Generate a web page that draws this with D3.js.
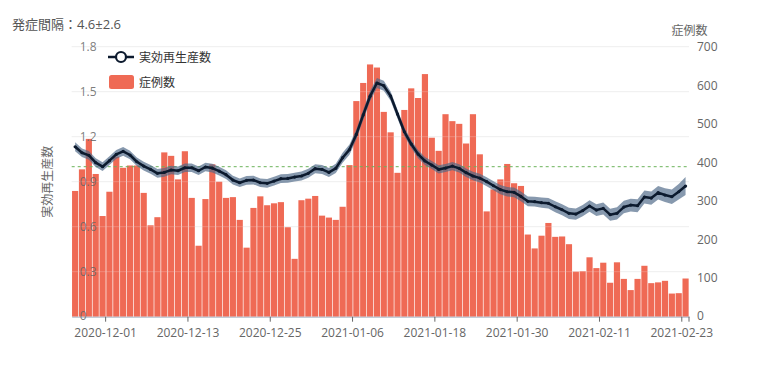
<!DOCTYPE html>
<html>
<head>
<meta charset="utf-8">
<script src="https://cdn.jsdelivr.net/npm/d3@7"></script>
<style>
  body { margin: 0; background: #fff; }
  text { font-family: "Open Sans", "Noto Sans CJK JP", sans-serif; }
  .jp { font-family: "Noto Sans CJK JP", "Open Sans", sans-serif; }
</style>
</head>
<body>
<svg id="chart" width="764" height="373"></svg>
<script>
// first day of the series (JST dates)
var startDay = "2020-11-27";

// daily case counts (症例数)
var cases = [
  326, 382, 461, 370, 261, 324, 415, 386, 392, 392,
  321, 237, 258, 426, 417, 356, 429, 308, 184, 305,
  395, 350, 308, 310, 251, 179, 282, 312, 289, 294,
  297, 232, 150, 302, 306, 313, 262, 257, 251, 285,
  393, 559, 606, 654, 646, 531, 478, 373, 536, 592,
  567, 629, 464, 430, 525, 507, 500, 449, 525, 421,
  273, 330, 356, 396, 346, 339, 213, 177, 210, 243,
  207, 208, 188, 117, 118, 154, 126, 140, 88, 141,
  98, 69, 98, 132, 87, 89, 93, 60, 61, 99
];

// effective reproduction number (実効再生産数)
var rt = [
  1.133, 1.093, 1.076, 1.027, 1.000, 1.040, 1.082, 1.102, 1.078, 1.033,
  1.004, 0.982, 0.956, 0.962, 0.978, 0.973, 0.993, 0.993, 0.973, 0.998,
  0.991, 0.971, 0.947, 0.911, 0.893, 0.909, 0.911, 0.893, 0.889, 0.904,
  0.920, 0.922, 0.931, 0.938, 0.956, 0.987, 0.982, 0.962, 0.989, 1.060,
  1.114, 1.215, 1.345, 1.470, 1.558, 1.540, 1.471, 1.351, 1.233, 1.151,
  1.084, 1.038, 1.011, 0.982, 0.991, 1.004, 0.989, 0.960, 0.938, 0.924,
  0.900, 0.873, 0.847, 0.833, 0.829, 0.802, 0.769, 0.767, 0.760, 0.756,
  0.733, 0.713, 0.689, 0.684, 0.707, 0.738, 0.711, 0.722, 0.680, 0.689,
  0.731, 0.744, 0.740, 0.798, 0.791, 0.827, 0.811, 0.800, 0.833, 0.871
];

// half width of the confidence band
var rtErr = [
  0.030, 0.029, 0.029, 0.029, 0.029, 0.029, 0.029, 0.029, 0.029, 0.029,
  0.029, 0.029, 0.029, 0.029, 0.029, 0.029, 0.029, 0.029, 0.029, 0.029,
  0.029, 0.029, 0.029, 0.029, 0.029, 0.029, 0.029, 0.029, 0.029, 0.029,
  0.029, 0.029, 0.029, 0.030, 0.030, 0.030, 0.030, 0.030, 0.031, 0.033,
  0.034, 0.034, 0.034, 0.034, 0.034, 0.033, 0.031, 0.029, 0.028, 0.027,
  0.027, 0.027, 0.027, 0.027, 0.027, 0.028, 0.028, 0.028, 0.029, 0.029,
  0.030, 0.030, 0.031, 0.031, 0.032, 0.032, 0.033, 0.033, 0.034, 0.035,
  0.036, 0.036, 0.037, 0.038, 0.038, 0.039, 0.039, 0.040, 0.040, 0.041,
  0.042, 0.042, 0.043, 0.044, 0.044, 0.045, 0.046, 0.048, 0.052, 0.060
];

var leftTicks = [0, 0.3, 0.6, 0.9, 1.2, 1.5, 1.8];
var rightTicks = [0, 100, 200, 300, 400, 500, 600, 700];
var xTickLabels = ["2020-12-01", "2020-12-13", "2020-12-25", "2021-01-06",
                   "2021-01-18", "2021-01-30", "2021-02-11", "2021-02-23"];

var parse = d3.timeParse("%Y-%m-%d");
var day0 = parse(startDay);
var dates = cases.map(function (d, i) { return d3.timeDay.offset(day0, i); });
// data stamped in JST, drawn at the UTC instant
var pos = function (d) { return d3.timeHour.offset(d, -9); };

var margin = { left: 71.7, top: 46.7, right: 75, bottom: 56.3 };
var W = 764, H = 373;
var svg = d3.select("#chart");

var x = d3.scaleTime()
  .domain([d3.timeHour.offset(pos(dates[0]), -12), d3.timeHour.offset(pos(dates[dates.length - 1]), 12)])
  .range([margin.left, W - margin.right]);
var y = d3.scaleLinear().domain([0, 1.8]).range([H - margin.bottom, margin.top]);
var y2 = d3.scaleLinear().domain([0, 700]).range([H - margin.bottom, margin.top]);
var step = x(d3.timeDay.offset(dates[0], 1)) - x(dates[0]);
var barW = step * 0.9;

var grey = "#666";
var barColor = "rgb(237,90,66)";

// gridlines
svg.append("g").selectAll("line").data(leftTicks.slice(1)).enter().append("line")
  .attr("x1", margin.left).attr("x2", W - margin.right)
  .attr("y1", function (d) { return y(d); }).attr("y2", function (d) { return y(d); })
  .attr("stroke", "#ececec").attr("stroke-width", 1);

// bars
svg.append("g").selectAll("rect").data(cases).enter().append("rect")
  .attr("x", function (d, i) { return x(pos(dates[i])) - barW / 2; })
  .attr("width", barW)
  .attr("y", function (d) { return y2(d); })
  .attr("height", function (d) { return y2(0) - y2(d); })
  .attr("fill", barColor)
  .attr("fill-opacity", 0.9);

// faint gridlines seen through the bars
svg.append("g").selectAll("line").data(leftTicks.slice(1)).enter().append("line")
  .attr("x1", margin.left).attr("x2", W - margin.right)
  .attr("y1", function (d) { return y(d); }).attr("y2", function (d) { return y(d); })
  .attr("stroke", "#fff").attr("stroke-opacity", 0.22).attr("stroke-width", 1);

// threshold R=1
svg.append("line")
  .attr("x1", margin.left).attr("x2", W - margin.right)
  .attr("y1", y(1)).attr("y2", y(1))
  .attr("stroke", "#6cb35a").attr("stroke-width", 1).attr("stroke-dasharray", "3,3");

// confidence band
var area = d3.area()
  .x(function (d, i) { return x(pos(dates[i])); })
  .y0(function (d, i) { return y(d - rtErr[i]); })
  .y1(function (d, i) { return y(d + rtErr[i]); });
svg.append("path").datum(rt).attr("d", area)
  .attr("fill", "rgb(78,104,136)").attr("fill-opacity", 0.68);

// Rt line
var line = d3.line()
  .x(function (d, i) { return x(pos(dates[i])); })
  .y(function (d) { return y(d); });
svg.append("path").datum(rt).attr("d", line)
  .attr("fill", "none").attr("stroke", "#0c1a2e").attr("stroke-width", 2.5)
  .attr("stroke-linejoin", "round");
svg.append("g").selectAll("circle").data(rt).enter().append("circle")
  .attr("cx", function (d, i) { return x(pos(dates[i])); })
  .attr("cy", function (d) { return y(d); })
  .attr("r", 1.6).attr("fill", "#0c1a2e");

// x axis
var xAxis = d3.axisBottom(x)
  .tickValues(xTickLabels.map(parse))
  .tickFormat(d3.timeFormat("%Y-%m-%d"))
  .tickSize(5).tickSizeOuter(0);
var gx = svg.append("g").attr("transform", "translate(0," + y(0) + ")").call(xAxis);
gx.select(".domain").attr("stroke", "#a8b8c8");
gx.selectAll(".tick line").attr("stroke", "#666");
gx.selectAll("text").attr("fill", grey).attr("font-size", 12).attr("dy", "1.05em")
  .attr("font-family", "Open Sans");
gx.append("line").attr("x1", W - margin.right).attr("x2", W - margin.right)
  .attr("y1", 0).attr("y2", 5).attr("stroke", "#666");

// left axis labels (inside plot)
var gl = svg.append("g").attr("transform", "translate(" + (margin.left + 8) + ",0)")
  .call(d3.axisRight(y).tickValues(leftTicks).tickFormat(d3.format("~g")).tickSize(0));
gl.select(".domain").remove();
gl.selectAll("text").attr("fill", grey).attr("fill-opacity", 0.85).attr("font-size", 12).attr("x", 0)
  .attr("font-family", "Open Sans");
gl.selectAll(".tick").filter(function (d) { return d === 0; }).select("text").attr("dy", "0.2em");

// right axis labels
var gr = svg.append("g").attr("transform", "translate(" + (W - margin.right + 8) + ",0)")
  .call(d3.axisRight(y2).tickValues(rightTicks).tickSize(0));
gr.select(".domain").remove();
gr.selectAll("text").attr("fill", grey).attr("font-size", 12).attr("x", 0)
  .attr("font-family", "Open Sans");
gr.selectAll(".tick").filter(function (d) { return d === 0; }).select("text").attr("dy", "0.2em");

// axis titles
svg.append("text").attr("class", "jp")
  .attr("transform", "translate(52," + ((margin.top + y(0)) / 2) + ") rotate(-90)")
  .attr("text-anchor", "middle").attr("font-size", 12).attr("fill", grey)
  .text("実効再生産数");
svg.append("text").attr("class", "jp")
  .attr("x", 689.5).attr("y", 35).attr("text-anchor", "middle")
  .attr("font-size", 12).attr("fill", grey).text("症例数");
var note = svg.append("text").attr("x", 12).attr("y", 29).attr("font-size", 13).attr("fill", "#555");
note.append("tspan").attr("class", "jp").text("発症間隔：");
note.append("tspan").attr("font-family", "Open Sans").text("4.6±2.6");

// legend
var lg = svg.append("g");
lg.append("line").attr("x1", 108).attr("x2", 134).attr("y1", 57).attr("y2", 57)
  .attr("stroke", "#0c1a2e").attr("stroke-width", 2.5);
lg.append("circle").attr("cx", 121).attr("cy", 57).attr("r", 5)
  .attr("fill", "#fff").attr("stroke", "#0c1a2e").attr("stroke-width", 2.2);
lg.append("text").attr("class", "jp").attr("x", 139).attr("y", 61.5)
  .attr("font-size", 12).attr("fill", "#333").text("実効再生産数");
lg.append("rect").attr("x", 109).attr("y", 75).attr("width", 25).attr("height", 14)
  .attr("rx", 2.5).attr("fill", barColor).attr("fill-opacity", 0.9);
lg.append("text").attr("class", "jp").attr("x", 139).attr("y", 86.5)
  .attr("font-size", 12).attr("fill", "#333").text("症例数");
</script>
</body>
</html>
